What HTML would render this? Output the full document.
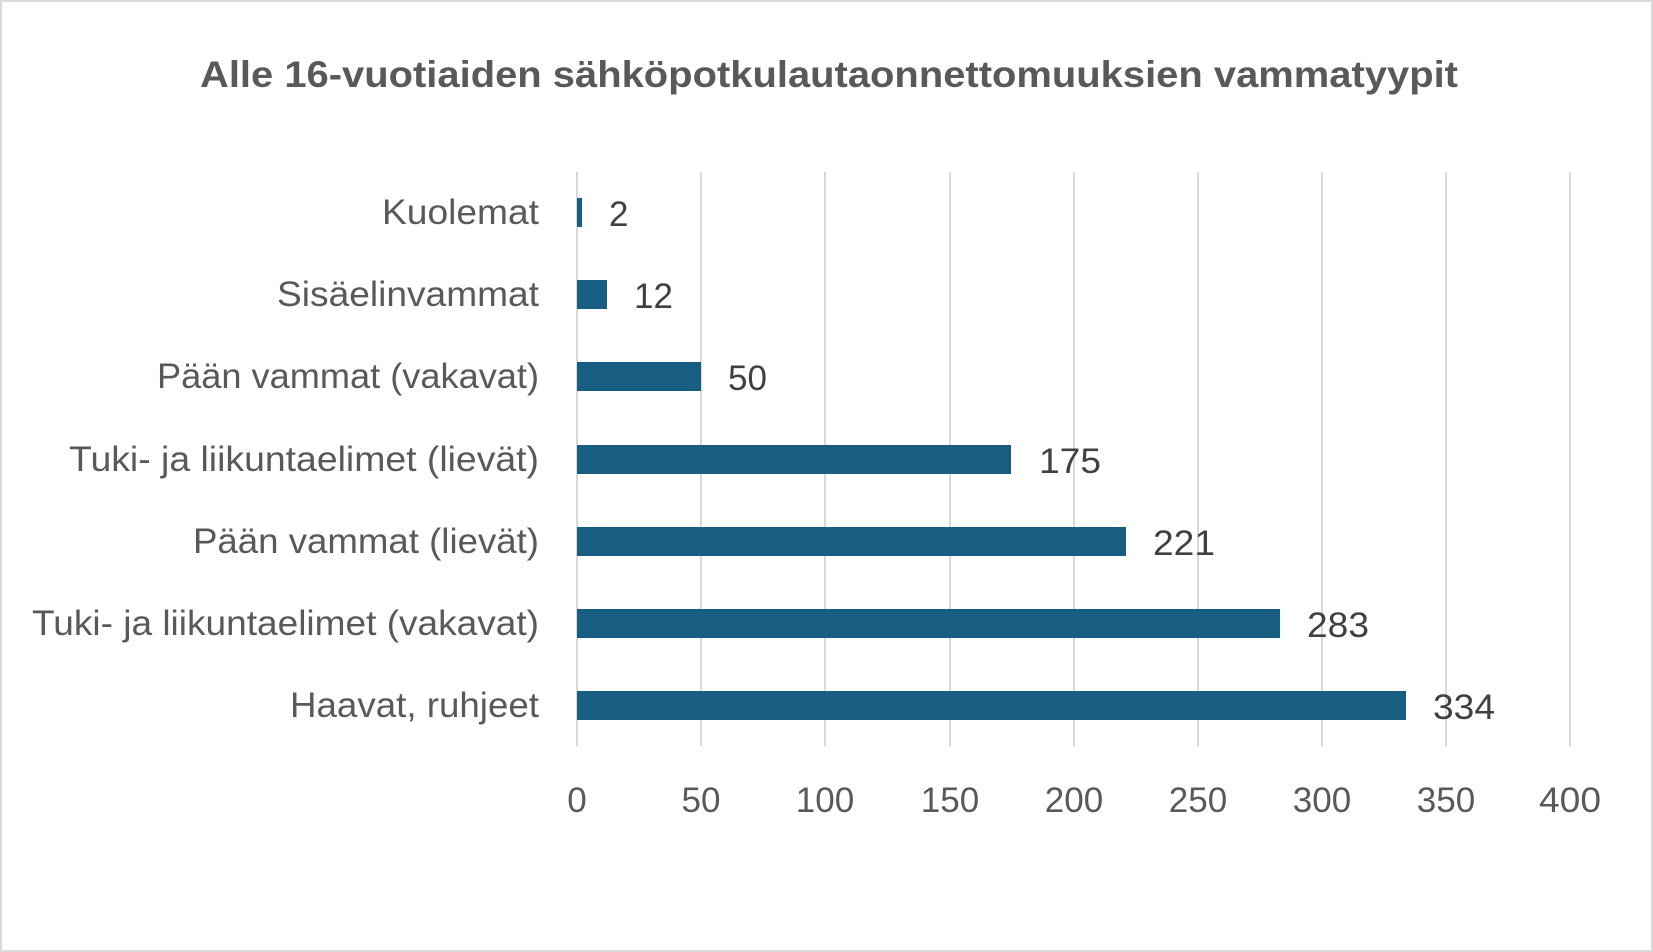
<!DOCTYPE html>
<html><head><meta charset="utf-8"><style>
html,body{margin:0;padding:0;background:#fff}
svg{display:block}
text{font-family:"Liberation Sans",sans-serif;fill:#595959}
</style></head><body>
<svg width="1653" height="952" viewBox="0 0 1653 952" xmlns="http://www.w3.org/2000/svg">
<rect x="1" y="1" width="1651" height="950" fill="#fff" stroke="#d9d9d9" stroke-width="2"/>
<text x="829" y="87" text-anchor="middle" font-size="37" font-weight="bold" textLength="1258" lengthAdjust="spacingAndGlyphs">Alle 16-vuotiaiden sähköpotkulautaonnettomuuksien vammatyypit</text>
<g stroke="#d9d9d9" stroke-width="2">
<line x1="577" y1="172" x2="577" y2="746"/>
<line x1="701" y1="172" x2="701" y2="746"/>
<line x1="825" y1="172" x2="825" y2="746"/>
<line x1="950" y1="172" x2="950" y2="746"/>
<line x1="1074" y1="172" x2="1074" y2="746"/>
<line x1="1198" y1="172" x2="1198" y2="746"/>
<line x1="1322" y1="172" x2="1322" y2="746"/>
<line x1="1446" y1="172" x2="1446" y2="746"/>
<line x1="1570" y1="172" x2="1570" y2="746"/>
</g>
<g font-size="35" text-anchor="middle">
<text x="577" y="812">0</text><text x="701" y="812">50</text><text x="825" y="812">100</text>
<text x="950" y="812">150</text><text x="1074" y="812">200</text><text x="1198" y="812">250</text>
<text x="1322" y="812">300</text><text x="1446" y="812">350</text><text x="1570" y="812" textLength="62" lengthAdjust="spacingAndGlyphs">400</text>
</g>
<g fill="#175e82">
<rect x="577" y="198" width="5" height="29"/>
<rect x="577" y="280" width="30" height="29"/>
<rect x="577" y="362" width="124" height="29"/>
<rect x="577" y="445" width="434" height="29"/>
<rect x="577" y="527" width="549" height="29"/>
<rect x="577" y="609" width="703" height="29"/>
<rect x="577" y="691" width="829" height="29"/>
</g>
<g font-size="35" text-anchor="end" lengthAdjust="spacingAndGlyphs">
<text x="539" y="224" textLength="157" lengthAdjust="spacingAndGlyphs">Kuolemat</text>
<text x="539" y="306" textLength="262" lengthAdjust="spacingAndGlyphs">Sisäelinvammat</text>
<text x="539" y="388" textLength="382" lengthAdjust="spacingAndGlyphs">Pään vammat (vakavat)</text>
<text x="539" y="471" textLength="470" lengthAdjust="spacingAndGlyphs">Tuki- ja liikuntaelimet (lievät)</text>
<text x="539" y="553" textLength="346" lengthAdjust="spacingAndGlyphs">Pään vammat (lievät)</text>
<text x="539" y="635" textLength="507" lengthAdjust="spacingAndGlyphs">Tuki- ja liikuntaelimet (vakavat)</text>
<text x="539" y="717" textLength="249" lengthAdjust="spacingAndGlyphs">Haavat, ruhjeet</text>
</g>
<g font-size="35">
<text x="609" y="226" style="fill:#404040">2</text>
<text x="634" y="308" style="fill:#404040">12</text>
<text x="728" y="390" style="fill:#404040">50</text>
<text x="1039" y="473" style="fill:#404040" textLength="62" lengthAdjust="spacingAndGlyphs">175</text>
<text x="1153" y="555" style="fill:#404040" textLength="62" lengthAdjust="spacingAndGlyphs">221</text>
<text x="1307" y="637" style="fill:#404040" textLength="62" lengthAdjust="spacingAndGlyphs">283</text>
<text x="1433" y="719" style="fill:#404040" textLength="62" lengthAdjust="spacingAndGlyphs">334</text>
</g>
</svg>
</body></html>
